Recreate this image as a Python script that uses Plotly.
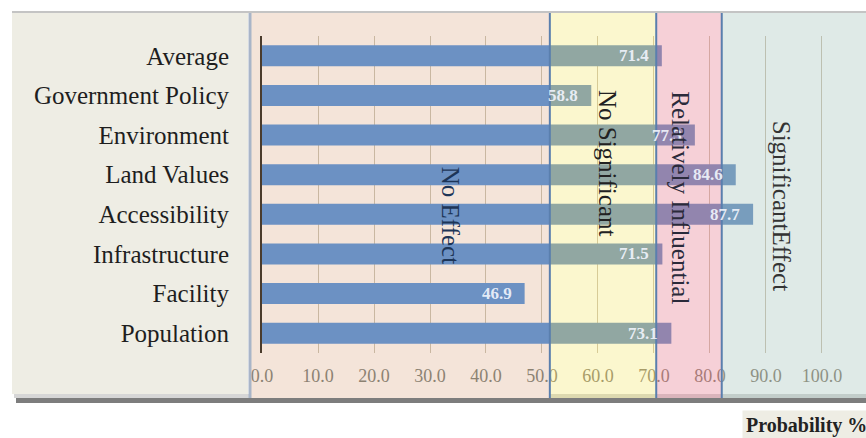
import plotly.graph_objects as go

categories = ["Average", "Government Policy", "Environment", "Land Values",
              "Accessibility", "Infrastructure", "Facility", "Population"]
values = [71.4, 58.8, 77.3, 84.6, 87.7, 71.5, 46.9, 73.1]
tick_vals = [0, 10, 20, 30, 40, 50, 60, 70, 80, 90, 100]
tick_text = ["0.0", "10.0", "20.0", "30.0", "40.0", "50.0", "60.0", "70.0", "80.0", "90.0", "100.0"]
zone_names = ["No Effect", "No Significant", "Relatively Influential", "SignificantEffect"]
zone_bounds = [-2.1, 51.4, 70.4, 82.1, 108.0]

W, H = 866, 438
L, R, T, B = 262, 0, 36, 85
PW, PH = W - L - R, H - T - B
XMAX = 107.86
SERIF = "Liberation Serif"

def px(x):
    return (x - L) / PW

def py(y):
    return (H - B - y) / PH

def dx(v):
    return v / XMAX

fig = go.Figure()
fig.add_trace(go.Bar(
    y=categories, x=values, orientation="h",
    marker=dict(color="#6c91c3", line=dict(width=0)),
    hoverinfo="skip", showlegend=False,
))

shapes = []
# top frame line
shapes.append(dict(type="line", xref="paper", yref="paper", x0=px(12), x1=px(866), y0=py(12), y1=py(12),
                   line=dict(color="#c4c4c4", width=2), layer="below"))
# left label panel
shapes.append(dict(type="rect", xref="paper", yref="paper", x0=px(12), x1=px(248), y0=py(394), y1=py(13),
                   fillcolor="#eeede4", line=dict(width=0), layer="below"))
# bottom shadows
shapes.append(dict(type="rect", xref="paper", yref="paper", x0=px(14), x1=px(866), y0=py(398), y1=py(394),
                   fillcolor="#d6d6d6", line=dict(width=0), layer="below"))
shapes.append(dict(type="rect", xref="paper", yref="paper", x0=px(16), x1=px(866), y0=py(403), y1=py(398),
                   fillcolor="#7d7d7d", line=dict(width=0), layer="below"))
# No Effect zone (below bars)
shapes.append(dict(type="rect", xref="paper", yref="paper", x0=dx(zone_bounds[0]), x1=dx(zone_bounds[1]),
                   y0=py(398), y1=py(13), fillcolor="#f4e4d9", line=dict(width=0), layer="below"))
# overlay zones (above bars, translucent)
overlay_colors = ["rgba(240,228,80,0.28)", "rgba(228,110,130,0.32)", "rgba(150,185,175,0.30)"]
for i, c in enumerate(overlay_colors):
    shapes.append(dict(type="rect", xref="paper", yref="paper", x0=dx(zone_bounds[i + 1]),
                       x1=dx(zone_bounds[i + 2]),
                       y0=py(398), y1=py(13), fillcolor=c, line=dict(width=0), layer="above"))
# separator between panel and chart
shapes.append(dict(type="line", xref="paper", yref="paper", x0=px(250), x1=px(250), y0=py(398), y1=py(13),
                   line=dict(color="#a9b5c8", width=3), layer="above"))
# zone boundary lines
for b in zone_bounds[1:4]:
    shapes.append(dict(type="line", xref="paper", yref="paper", x0=dx(b), x1=dx(b), y0=py(398), y1=py(13),
                       line=dict(color="#5a7fae", width=2), layer="above"))

annotations = []
# value labels
for c, v in zip(categories, values):
    annotations.append(dict(x=v, y=c, xref="x", yref="y", text=f"{v:.1f}", showarrow=False,
                            xanchor="right", xshift=-11,
                            font=dict(family=SERIF, size=17, color="rgba(240,244,252,0.92)", weight="bold")))
# zone names
zone_label_pos = [(33.8, py(215)), (61.8, py(163)), (74.6, py(198)), (92.9, py(206))]
zone_label_col = ["#1d3557", "#222222", "#2a2a3a", "#333333"]
for name, (zx, zy), col in zip(zone_names, zone_label_pos, zone_label_col):
    annotations.append(dict(x=zx, y=zy, xref="x", yref="paper", text=name, showarrow=False,
                            textangle=90, font=dict(family=SERIF, size=25, color=col)))
# axis title box
annotations.append(dict(x=px(742), y=py(426), xref="paper", yref="paper", text="Probability %",
                        showarrow=False, xanchor="left", yanchor="middle",
                        bgcolor="#eeede4", borderpad=3,
                        font=dict(family=SERIF, size=20, color="#222222", weight="bold")))

fig.update_layout(
    width=W, height=H,
    margin=dict(l=L, r=R, t=T, b=B),
    paper_bgcolor="white", plot_bgcolor="rgba(0,0,0,0)",
    bargap=0.47,
    shapes=shapes, annotations=annotations,
    xaxis=dict(range=[0, XMAX], tickvals=tick_vals, ticktext=tick_text, showgrid=True,
               gridcolor="rgba(165,145,115,0.55)", gridwidth=1, zeroline=False, ticks="",
               ticklabelstandoff=10, showline=False,
               tickfont=dict(family=SERIF, size=18, color="#8c8272")),
    yaxis=dict(categoryorder="array", categoryarray=categories[::-1], range=[-0.5, 7.5],
               showgrid=False, zeroline=False, ticks="", showline=True, linecolor="#4a3b2c",
               linewidth=2, ticklabelstandoff=26,
               tickfont=dict(family=SERIF, size=25, color="#1e1e1e")),
)

fig.write_html("out.html")
